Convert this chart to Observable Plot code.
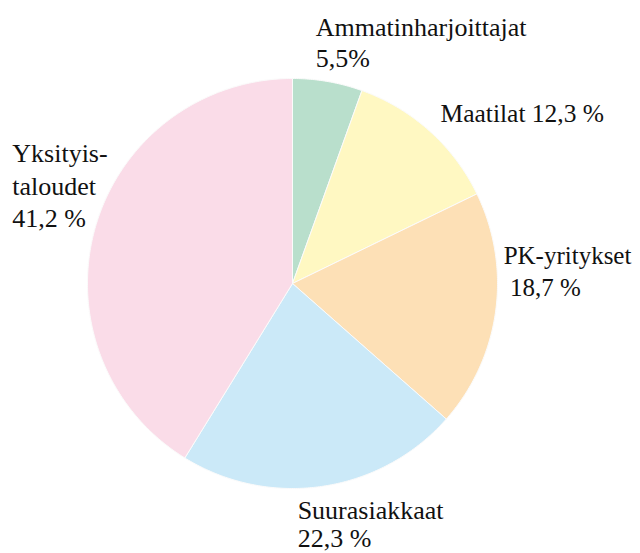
<!DOCTYPE html>
<html>
<head>
<meta charset="utf-8">
<script src="https://cdn.jsdelivr.net/npm/d3@7"></script>
<script src="https://cdn.jsdelivr.net/npm/@observablehq/plot@0.6"></script>
<style>
  html, body { margin: 0; padding: 0; background: #fff; }
</style>
</head>
<body>
<div id="chart"></div>
<script>
// Data
const categories = ["Ammatinharjoittajat", "Maatilat", "PK-yritykset", "Suurasiakkaat", "Yksityistaloudet"];
const shares = [5.5, 12.3, 18.7, 22.3, 41.2];
const labels = [
  "Ammatinharjoittajat\n5,5%",
  "Maatilat 12,3 %",
  "PK-yritykset\n\u00a018,7 %",
  "Suurasiakkaat\n22,3 %",
  "Yksityis-\ntaloudet\n41,2 %"
];
const colors = ["#b9dfcc", "#fff8c2", "#fde0b6", "#cbe9f8", "#fadce8"];

// Layout
const W = 640, H = 553, CX = 292, CY = 283, R = 205;
const labelShift = [[-12, -67], [11, -31], [8, -70], [-25, 12], [-83, -88]];
const labelLine = [1.17, 1.2, 1.28, 1.1, 1.24];
const labelSize = [26, 25.5, 25, 26, 26];

const slices = d3.pie().sort(null).value(d => d.value)(
  categories.map((name, i) => ({name, value: shares[i], label: labels[i]}))
);

// Polygon points for each slice (unit radius, angle clockwise from top)
const pts = [];
slices.forEach(s => {
  const n = Math.max(2, Math.ceil((s.endAngle - s.startAngle) / 0.01));
  pts.push({name: s.data.name, x: 0, y: 0});
  for (let k = 0; k <= n; k++) {
    const a = s.startAngle + (s.endAngle - s.startAngle) * k / n;
    pts.push({name: s.data.name, x: Math.sin(a), y: Math.cos(a)});
  }
  pts.push({name: s.data.name, x: 0, y: 0});
});

const labelPts = slices.map(s => {
  const a = (s.startAngle + s.endAngle) / 2;
  return {name: s.data.name, label: s.data.label, x: Math.sin(a), y: Math.cos(a)};
});

const FONT = "Liberation Serif, Times New Roman, Tinos, DejaVu Serif, serif";

const textMarks = labelPts.map((d, i) => Plot.text([d], {
  x: "x", y: "y", text: "label",
  textAnchor: "start", lineAnchor: "top", lineHeight: labelLine[i],
  fontSize: labelSize[i], fontFamily: FONT, fill: "#111",
  dx: labelShift[i][0], dy: labelShift[i][1]
}));

const chart = Plot.plot({
  width: W, height: H,
  margin: 0,
  style: {background: "#fff"},
  x: {domain: [-CX / R, (W - CX) / R], range: [0, W], axis: null},
  y: {domain: [-(H - CY) / R, CY / R], range: [H, 0], axis: null},
  color: {domain: categories, range: colors},
  marks: [
    Plot.line(pts, {x: "x", y: "y", z: "name", fill: "name", stroke: "#fbfbfb", strokeWidth: 1, strokeLinejoin: "round"}),
    ...textMarks
  ]
});
document.getElementById("chart").appendChild(chart);
</script>
</body>
</html>
